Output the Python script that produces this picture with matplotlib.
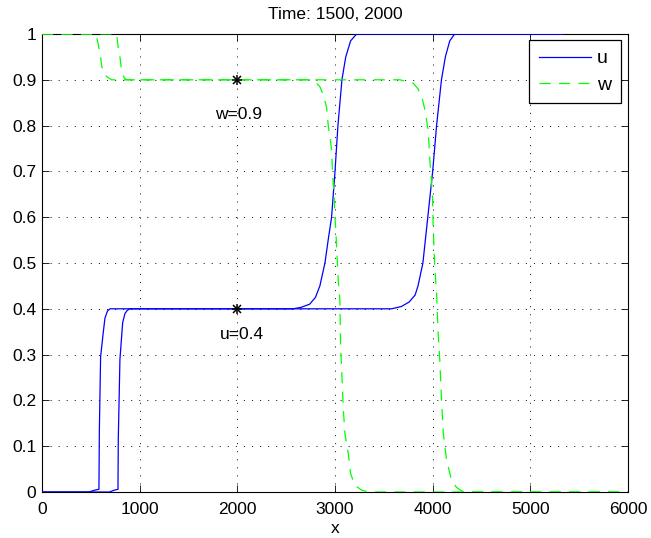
import matplotlib
matplotlib.use("Agg")
import matplotlib.pyplot as plt

plt.rcParams['font.family'] = ['Liberation Sans', 'DejaVu Sans']
plt.rcParams['font.size'] = 12.5
plt.rcParams['lines.scale_dashes'] = False

# u at time 1500
u1_x = [0, 480, 540, 583, 587, 600, 628, 645, 670, 696, 2570, 2650, 2740, 2800, 2845, 2897,
        2930, 2965, 3000, 3030, 3071, 3110, 3160, 3221, 5330]
u1_y = [0, 0, 0.004, 0.006, 0.13, 0.295, 0.35, 0.38, 0.395, 0.4, 0.4, 0.403, 0.41, 0.425, 0.45, 0.5,
        0.55, 0.6, 0.7, 0.8, 0.9, 0.95, 0.985, 1.0, 1.0]
# u at time 2000
u2_x = [0, 690, 740, 778, 781, 798, 826, 850, 875, 900, 3580, 3680, 3760, 3820, 3850, 3900,
        3925, 3950, 4000, 4040, 4090, 4130, 4175, 4225, 5330]
u2_y = [0, 0, 0.004, 0.006, 0.115, 0.29, 0.37, 0.39, 0.397, 0.4, 0.4, 0.405, 0.415, 0.43, 0.45, 0.5,
        0.55, 0.6, 0.7, 0.8, 0.9, 0.95, 0.985, 1.0, 1.0]
# w at time 1500
w1_x = [0, 553, 577, 600, 611, 630, 662, 713, 2775, 2845, 2880, 2914, 2931, 2948, 2965, 2976,
        2989, 3000, 3010, 3033, 3050, 3057, 3067, 3084, 3101, 3135, 3160, 3203, 3272, 3350, 6000]
w1_y = [1, 1, 0.976, 0.95, 0.93, 0.915, 0.907, 0.9, 0.9, 0.885, 0.867, 0.84, 0.8, 0.775, 0.747, 0.69,
        0.655, 0.6, 0.565, 0.463, 0.42, 0.32, 0.274, 0.186, 0.128, 0.085, 0.04, 0.015, 0.004, 0, 0]
# w at time 2000
w2_x = [0, 764, 781, 798, 815, 840, 866, 3664, 3800, 3851, 3896, 3920, 3937, 3954, 3971, 3988,
        3999, 4005, 4022, 4040, 4056, 4073, 4091, 4108, 4142, 4193, 4244, 4300, 4350, 6000]
w2_y = [1, 1, 0.97, 0.95, 0.92, 0.905, 0.9, 0.9, 0.893, 0.88, 0.856, 0.835, 0.812, 0.79, 0.725, 0.68,
        0.64, 0.58, 0.49, 0.435, 0.347, 0.288, 0.2, 0.13, 0.07, 0.026, 0.01, 0.002, 0, 0]

mark_x = [2000, 2000]
mark_y = [0.9, 0.4]
labels = ['w=0.9', 'u=0.4']
label_x = [1775, 1820]
label_y = [0.825, 0.343]

xticks = [0, 1000, 2000, 3000, 4000, 5000, 6000]
yticks = [0, 0.1, 0.2, 0.3, 0.4, 0.5, 0.6, 0.7, 0.8, 0.9, 1]
ytick_labels = ['0', '0.1', '0.2', '0.3', '0.4', '0.5', '0.6', '0.7', '0.8', '0.9', '1']

fig = plt.figure(figsize=(6.51, 5.38), dpi=100)
ax = fig.add_axes([42/651, 46/538, 586/651, 458/538])

dash = (0, (8, 6))
ax.plot(u1_x, u1_y, color=(0, 0, 1), lw=0.9, label='u', zorder=3)
ax.plot(w1_x, w1_y, color=(0, 1, 0), lw=0.9, linestyle=dash, label='w', zorder=3)
ax.plot(u2_x, u2_y, color=(0, 0, 1), lw=0.9, zorder=3)
ax.plot(w2_x, w2_y, color=(0, 1, 0), lw=0.9, linestyle=dash, zorder=3)
for m in ['+', 'x']:
    ax.plot(mark_x, mark_y, linestyle='none', marker=m, color='k',
            markersize=7 if m == '+' else 5.5, markeredgewidth=1.1, zorder=4)
for lx, ly, t in zip(label_x, label_y, labels):
    ax.text(lx, ly, t, ha='left', va='center', fontsize=12.5)

ax.set_xlim(0, 6000)
ax.set_ylim(0, 1)
ax.set_xticks(xticks)
ax.set_xticklabels([str(v) for v in xticks])
ax.set_yticks(yticks)
ax.set_yticklabels(ytick_labels)
ax.tick_params(direction='in', top=True, right=True, length=5, width=0.6, labelsize=12.5, pad=4)
ax.tick_params(axis='x', pad=7)
ax.grid(True, color='k', linestyle=(0, (0.8, 5)), lw=0.6)
ax.set_axisbelow(True)
for s in ax.spines.values():
    s.set_linewidth(0.8)
ax.set_title('Time: 1500, 2000', fontsize=12.5, pad=11)
ax.set_xlabel('x', fontsize=12.5, labelpad=3)

leg = ax.legend(loc='upper right', bbox_to_anchor=((621 - 42) / 586, 1 - 6 / 458),
                bbox_transform=ax.transAxes, fancybox=False, edgecolor='k', framealpha=1,
                borderaxespad=0, handlelength=2.7, handletextpad=0.3, borderpad=0.5,
                labelspacing=0.45, fontsize=14)
leg.get_frame().set_linewidth(0.9)
fig.savefig('out.png', dpi=100)
